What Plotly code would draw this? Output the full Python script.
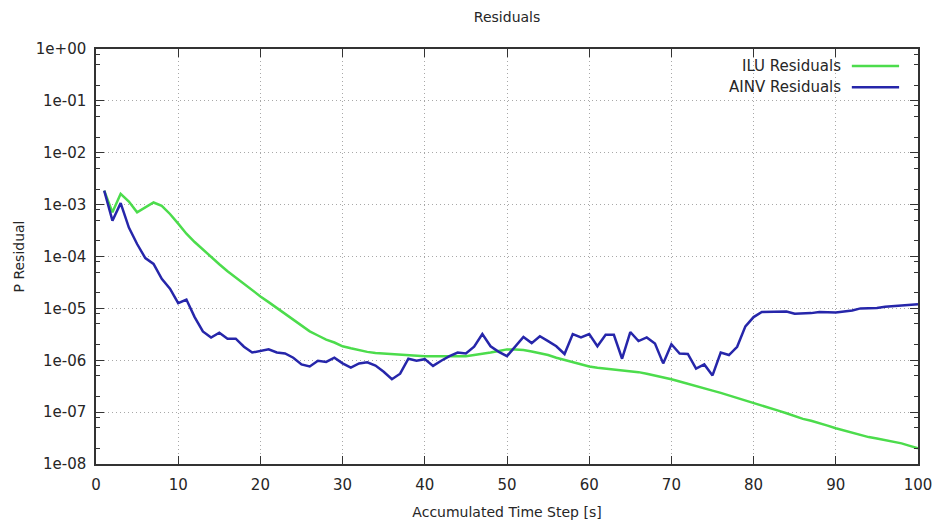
import plotly.graph_objects as go

steps = list(range(1, 101))

ilu_residuals = [
    1.86e-3, 7.1e-4, 1.62e-3, 1.15e-3, 7.1e-4, 8.9e-4, 1.10e-3, 9.5e-4, 6.6e-4, 4.3e-4,
    2.75e-4, 1.9e-4, 1.35e-4, 9.8e-5, 7.1e-5, 5.2e-5, 3.9e-5, 2.9e-5, 2.24e-5, 1.7e-5,
    1.32e-5, 1.02e-5, 7.9e-6, 6.0e-6, 4.7e-6, 3.6e-6, 3.0e-6, 2.5e-6, 2.2e-6, 1.86e-6,
    1.7e-6, 1.55e-6, 1.45e-6, 1.38e-6, 1.35e-6, 1.29e-6, 1.26e-6, 1.23e-6, 1.2e-6, 1.2e-6,
    1.2e-6, 1.2e-6, 1.2e-6, 1.2e-6, 1.2e-6, 1.26e-6, 1.32e-6, 1.41e-6, 1.51e-6, 1.62e-6,
    1.62e-6, 1.58e-6, 1.48e-6, 1.38e-6, 1.26e-6, 1.12e-6, 1.02e-6, 9.3e-7, 8.3e-7, 7.6e-7,
    7.2e-7, 6.9e-7, 6.6e-7, 6.3e-7, 6.2e-7, 5.9e-7, 5.5e-7, 5.1e-7, 4.7e-7, 4.3e-7,
    3.9e-7, 3.55e-7, 3.2e-7, 2.95e-7, 2.6e-7, 2.35e-7, 2.1e-7, 1.9e-7, 1.7e-7, 1.5e-7,
    1.38e-7, 1.23e-7, 1.07e-7, 9.5e-8, 8.3e-8, 7.4e-8, 6.8e-8, 6.2e-8, 5.5e-8, 4.9e-8,
    4.4e-8, 4.0e-8, 3.6e-8, 3.3e-8, 3.1e-8, 2.9e-8, 2.7e-8, 2.5e-8, 2.24e-8, 2.0e-8,
]

ainv_residuals = [
    1.86e-3, 4.9e-4, 1.07e-3, 3.6e-4, 1.74e-4, 9.3e-5, 7.2e-5, 3.7e-5, 2.4e-5, 1.26e-5,
    1.48e-5, 6.8e-6, 3.6e-6, 2.75e-6, 3.4e-6, 2.6e-6, 2.6e-6, 1.82e-6, 1.41e-6, 1.51e-6,
    1.62e-6, 1.41e-6, 1.35e-6, 1.12e-6, 8.3e-7, 7.6e-7, 9.8e-7, 9.3e-7, 1.12e-6, 8.7e-7,
    7.2e-7, 8.7e-7, 9.1e-7, 7.9e-7, 6.0e-7, 4.3e-7, 5.5e-7, 1.07e-6, 9.8e-7, 1.05e-6,
    7.8e-7, 9.8e-7, 1.2e-6, 1.41e-6, 1.35e-6, 1.82e-6, 3.2e-6, 1.86e-6, 1.45e-6, 1.2e-6,
    1.82e-6, 2.8e-6, 2.14e-6, 2.9e-6, 2.34e-6, 1.86e-6, 1.32e-6, 3.2e-6, 2.75e-6, 3.2e-6,
    1.86e-6, 3.1e-6, 3.1e-6, 1.07e-6, 3.5e-6, 2.34e-6, 2.75e-6, 2.1e-6, 8.7e-7, 2.04e-6,
    1.35e-6, 1.32e-6, 6.9e-7, 8.3e-7, 5.1e-7, 1.41e-6, 1.26e-6, 1.82e-6, 4.5e-6, 6.8e-6,
    8.5e-6, 8.5e-6, 8.5e-6, 8.7e-6, 7.9e-6, 7.9e-6, 8.1e-6, 8.5e-6, 8.3e-6, 8.3e-6,
    8.7e-6, 9.1e-6, 1.0e-5, 1.0e-5, 1.02e-5, 1.07e-5, 1.1e-5, 1.15e-5, 1.2e-5, 1.2e-5,
]

series_names = ["ILU Residuals", "AINV Residuals"]
series_colors = ["#4cdc4c", "#2626aa"]

x_tickvals = [0, 10, 20, 30, 40, 50, 60, 70, 80, 90, 100]
y_tickvals = [1e0, 1e-1, 1e-2, 1e-3, 1e-4, 1e-5, 1e-6, 1e-7, 1e-8]
y_ticktext = ["1e+00", "1e-01", "1e-02", "1e-03", "1e-04", "1e-05", "1e-06", "1e-07", "1e-08"]
y_minor_vals = [m * 10.0 ** k for k in range(-8, 0) for m in (2, 5, 8)]

FONT = "DejaVu Sans"
TXT = "#262626"
AX = "#333333"
GRID = "#a8a8a8"

fig = go.Figure()
fig.add_trace(go.Scatter(x=steps, y=ilu_residuals, mode="lines", name=series_names[0],
                         line=dict(color=series_colors[0], width=2.5), showlegend=False))
fig.add_trace(go.Scatter(x=steps, y=ainv_residuals, mode="lines", name=series_names[1],
                         line=dict(color=series_colors[1], width=2.5), showlegend=False))

# legend drawn gnuplot-style: right-aligned text, line sample on the right
legend_rows_y = [0.959, 0.908]
for name, color, ly in zip(series_names, series_colors, legend_rows_y):
    fig.add_annotation(xref="paper", yref="paper", x=0.909, y=ly, text=name,
                       showarrow=False, xanchor="right", yanchor="middle",
                       font=dict(family=FONT, size=15, color=TXT))
    fig.add_shape(type="line", xref="paper", yref="paper", x0=0.9195, x1=0.977,
                  y0=ly, y1=ly, line=dict(color=color, width=2.5))

fig.update_layout(
    width=939, height=527,
    margin=dict(l=96, r=21, t=49, b=63),
    paper_bgcolor="white", plot_bgcolor="white",
    font=dict(family=FONT, size=15, color=TXT),
    title=dict(text="Residuals", x=0.54, xanchor="center", y=0.968, yanchor="middle",
               font=dict(family=FONT, size=14, color=TXT)),
    showlegend=False,
)

fig.update_xaxes(
    range=[0, 100], tickvals=x_tickvals, ticks="inside", ticklen=8, tickwidth=1.2,
    tickcolor=AX, showline=True, linecolor=AX, linewidth=1.5, mirror="ticks",
    showgrid=True, gridcolor=GRID, griddash="1px,3px", gridwidth=1,
    zeroline=False, tickfont=dict(family=FONT, size=15, color=TXT),
    ticklabelstandoff=6, automargin=False,
    title=dict(text="Accumulated Time Step [s]", standoff=14,
               font=dict(family=FONT, size=14, color=TXT)),
)
fig.update_yaxes(
    type="log", range=[-8, 0], tickvals=y_tickvals, ticktext=y_ticktext,
    ticks="inside", ticklen=8, tickwidth=1.2, tickcolor=AX,
    showline=True, linecolor=AX, linewidth=1.5, mirror="ticks",
    showgrid=True, gridcolor=GRID, griddash="1px,3px", gridwidth=1,
    zeroline=False, tickfont=dict(family=FONT, size=15, color=TXT),
    ticklabelstandoff=5, automargin=False,
    minor=dict(tickvals=y_minor_vals, ticks="inside", ticklen=4, tickcolor=AX, showgrid=False),
    title=dict(text="P Residual", standoff=8,
               font=dict(family=FONT, size=14, color=TXT)),
)

fig.write_html("out.html")
